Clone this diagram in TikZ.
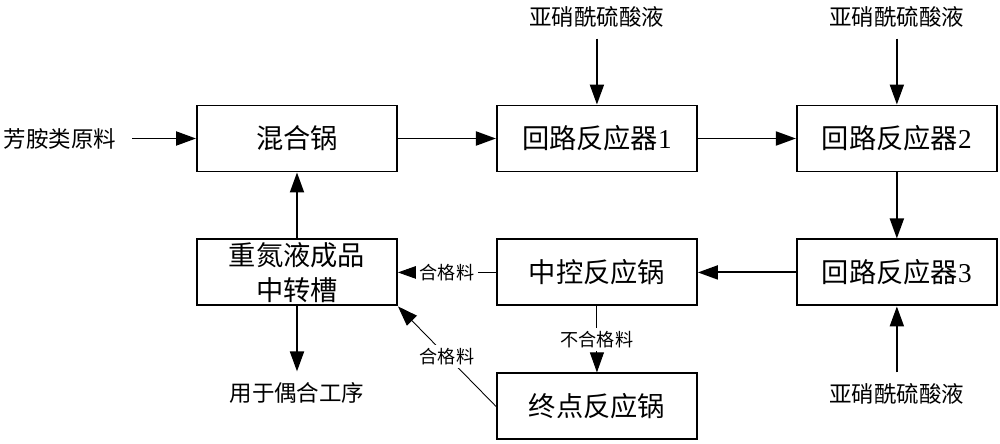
\documentclass[tikz,border=0pt]{standalone}
\usepackage{fontspec}
\setmainfont{Liberation Serif}
\newfontfamily\cjk{Noto Sans CJK SC}
\usetikzlibrary{
  chains,
  positioning,
  arrows.meta
}

\begin{document}
\begin{tikzpicture}[
  line width=1.1pt,
  box/.style={
     rectangle,
     draw,
     minimum width=4cm,
     minimum height=1.32cm,
     font=\fontsize{15.5}{20}\selectfont\cjk
  },
  feed/.style={
     inner xsep=.3cm,
     inner ysep=.2cm,
     font=\fontsize{12.8}{15}\selectfont\cjk
  },
  tag/.style={
     fill=white,
     inner sep=2pt,
     font=\fontsize{10.3}{12}\selectfont\cjk
  },
  flow/.style={-{Triangle[length=4mm,width=2.8mm]}},
  thinflow/.style={flow,line width=.5pt},
  node distance=1.32cm and 1.96cm,
  start chain
]
   % keep the margins of the original (mix sits at the origin)
   \useasboundingbox (-5.94,2.77) rectangle (14.06,-6.09);

   % The reactors, top row on the chain
   \node[box,on chain] (mix) {混合锅};
   \node[box,on chain] (loopA) {回路反应器{\rmfamily 1}};
   \node[box,on chain] (loopB) {回路反应器{\rmfamily 2}};
   \node[box,below=of loopB] (loopC) {回路反应器{\rmfamily 3}};
   \node[box,below=of loopA] (ctrl) {中控反应锅};
   \node[box,below=of mix,align=center,inner ysep=1pt] (tank) {重氮液成品\\中转槽};
   \node[box,below=of ctrl] (final) {终点反应锅};

   % Feeds in and out
   \node[feed,left=1.28cm of mix] (raw) {芳胺类原料};
   \node[feed,above=of loopA] (acidA) {亚硝酰硫酸液};
   \node[feed,above=of loopB] (acidB) {亚硝酰硫酸液};
   \node[feed,below=of loopC] (acidC) {亚硝酰硫酸液};
   \node[feed,below=1.3cm of tank] (use) {用于偶合工序};

   % The main flow
   \draw[flow] (raw) -- (mix);
   \draw[flow] (mix) -- (loopA);
   \draw[flow] (loopA) -- (loopB);
   \draw[flow] (loopB) -- (loopC);
   \draw[flow] (loopC) -- (ctrl);
   \draw[flow] (tank) -- (mix);
   \draw[flow] (tank) -- (use);
   \draw[flow] (acidA) -- (loopA);
   \draw[flow] (acidB) -- (loopB);
   \draw[flow] (acidC) -- (loopC);

   % Checked product
   \draw[thinflow] (ctrl) -- node[tag] {合格料} (tank);
   \draw[thinflow] (ctrl) -- node[tag] {不合格料} (final);
   \draw[thinflow] (final.west) -- node[tag] {合格料} (tank.south east);
\end{tikzpicture}
\end{document}
